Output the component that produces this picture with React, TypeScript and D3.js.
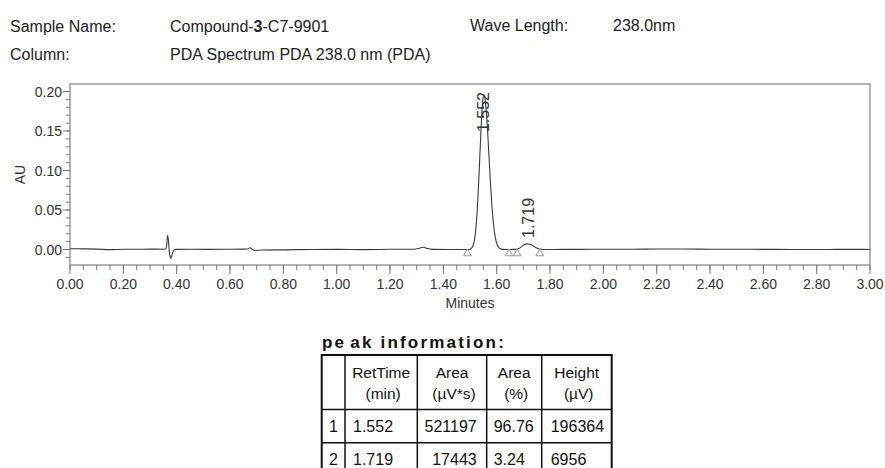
import React from 'react'
import * as d3 from 'd3'

const FONT = '"Liberation Sans", Arial, Helvetica, sans-serif'

// header text
const sampleName = ['Compound-', '3', '-C7-9901']
const columnName = 'PDA Spectrum PDA 238.0 nm (PDA)'
const waveLength = '238.0nm'

// chromatogram trace, [minutes, AU]
const baselineStart: [number, number][] = [
  [0.0, 0.001], [0.05, 0.0008], [0.1, 0.0005], [0.15, -0.0002], [0.2, 0.0004],
  [0.25, 0.0003], [0.3, 0.0005], [0.35, 0.0004]
]
const injectionSpike: [number, number][] = [
  [0.358, 0.0006], [0.362, 0.004], [0.366, 0.018], [0.369, 0.012], [0.372, -0.002],
  [0.376, -0.0095], [0.379, -0.011], [0.383, -0.0065], [0.388, -0.0015], [0.395, 0.0002]
]
const baselineMid: [number, number][] = [
  [0.45, 0.0004], [0.52, 0.0002], [0.6, 0.0004], [0.665, 0.0006], [0.675, 0.0023],
  [0.683, 0.0004], [0.692, -0.0012], [0.72, -0.0006], [0.8, -0.0004], [0.9, 0.0],
  [1.0, 0.0002], [1.1, -0.0001], [1.2, 0.0003], [1.29, 0.0004], [1.31, 0.0016],
  [1.325, 0.0028], [1.34, 0.0012], [1.36, 0.0002], [1.42, 0.0], [1.47, 0.0001]
]
const mainPeak: [number, number][] = [
  [1.492, 0.0001], [1.502, 0.0008], [1.507, 0.0022], [1.512, 0.0056], [1.517, 0.0129],
  [1.522, 0.0265], [1.527, 0.0489], [1.532, 0.0806], [1.537, 0.119], [1.542, 0.157],
  [1.547, 0.185], [1.552, 0.196], [1.557, 0.189], [1.562, 0.171], [1.567, 0.144],
  [1.572, 0.113], [1.577, 0.0824], [1.582, 0.0563], [1.587, 0.0359], [1.592, 0.0214],
  [1.597, 0.0119], [1.602, 0.0061], [1.607, 0.003], [1.612, 0.0013], [1.622, 0.0002],
  [1.635, 0.0], [1.65, 0.0001]
]
const minorPeak: [number, number][] = [
  [1.675, 0.0002], [1.685, 0.0015], [1.695, 0.004], [1.705, 0.0062], [1.715, 0.0071],
  [1.72, 0.007], [1.73, 0.006], [1.74, 0.004], [1.75, 0.002], [1.76, 0.0006], [1.775, 0.0]
]
const baselineEnd: [number, number][] = [
  [1.8, 0.0001], [1.9, 0.0002], [2.0, 0.0004], [2.1, 0.0003], [2.2, 0.0006], [2.3, 0.0007],
  [2.4, 0.0004], [2.5, 0.0003], [2.6, 0.0002], [2.7, 0.0001], [2.8, 0.0], [2.9, 0.0002], [3.0, 0.0001]
]

// peak labels and integration markers
const peakTimes = [1.552, 1.719]
const peakHeights = [0.196, 0.007]
const peakLabels = ['1.552', '1.719']
const markerTimes = [1.49, 1.646, 1.677, 1.762]

// axis ticks
const xMajorTicks = [0, 0.2, 0.4, 0.6, 0.8, 1.0, 1.2, 1.4, 1.6, 1.8, 2.0, 2.2, 2.4, 2.6, 2.8, 3.0]
const yMajorTicks = [0, 0.05, 0.1, 0.15, 0.2]

// peak table
const tableTitle = ['pe', 'ak information:']
const tableHead = [['', ''], ['RetTime', '(min)'], ['Area', '(µV*s)'], ['Area', '(%)'], ['Height', '(µV)']]
const tableRows = [
  ['1', '1.552', '521197', '96.76', '196364'],
  ['2', '1.719', '17443', '3.24', '6956']
]

const W = 885
const H = 468
const plot = { left: 70, right: 870, top: 84, bottom: 265 }

const App = () => {
  const x = d3.scaleLinear().domain([0, 3]).range([plot.left, plot.right])
  const y = d3.scaleLinear().domain([-0.0196, 0.2095]).range([plot.bottom, plot.top])

  const trace = [...baselineStart, ...injectionSpike, ...baselineMid, ...mainPeak, ...minorPeak, ...baselineEnd]
  const line = d3.line<[number, number]>()
    .x(d => x(d[0]))
    .y(d => y(d[1]))
    .curve(d3.curveMonotoneX)

  const xMinor = d3.range(0, 61).map(i => i * 0.05)
  const yMinor = d3.range(-1, 21).map(i => i * 0.01)
  const tri = d3.symbol(d3.symbolTriangle, 26)()

  // table columns
  const cols = [321.7, 345, 417.3, 486.7, 541.7, 611.7]
  const rowLines = [355, 409.5, 442.7, 476]

  return (
    <svg width={W} height={H} style={{ position: 'absolute', left: 0, top: 0, background: '#fff' }}
      fontFamily={FONT}>
      {/* header */}
      <g fontSize={16} fill="#222">
        <text x={10} y={32}>Sample Name:</text>
        <text x={170} y={32}>
          {sampleName[0]}<tspan fontWeight="bold">{sampleName[1]}</tspan>{sampleName[2]}
        </text>
        <text x={470} y={31}>Wave Length:</text>
        <text x={613} y={31}>{waveLength}</text>
        <text x={10} y={60}>Column:</text>
        <text x={170} y={60}>{columnName}</text>
      </g>

      {/* frame */}
      <rect x={plot.left} y={plot.top} width={plot.right - plot.left} height={plot.bottom - plot.top}
        fill="none" stroke="#8a8a8a" strokeWidth={1.3} />

      {/* y axis */}
      <g stroke="#7a7a7a" strokeWidth={1}>
        {yMinor.map(v => (
          <line key={v} x1={plot.left - 4} x2={plot.left} y1={y(v)} y2={y(v)} />
        ))}
        {yMajorTicks.map(v => (
          <line key={'M' + v} x1={plot.left - 7} x2={plot.left} y1={y(v)} y2={y(v)} />
        ))}
      </g>
      <g fontSize={14} fill="#333" textAnchor="end">
        {yMajorTicks.map(v => (
          <text key={v} x={62} y={y(v) + 5}>{v.toFixed(2)}</text>
        ))}
      </g>
      <text transform={`translate(25,${(plot.top + plot.bottom) / 2}) rotate(-90)`}
        textAnchor="middle" fontSize={14} fill="#333">AU</text>

      {/* x axis */}
      <g stroke="#7a7a7a" strokeWidth={1}>
        {xMinor.map(v => (
          <line key={v} x1={x(v)} x2={x(v)} y1={plot.bottom} y2={plot.bottom + 5} />
        ))}
        {xMajorTicks.map(v => (
          <line key={'M' + v} x1={x(v)} x2={x(v)} y1={plot.bottom} y2={plot.bottom + 9} />
        ))}
      </g>
      <g fontSize={14} fill="#333" textAnchor="middle">
        {xMajorTicks.map(v => (
          <text key={v} x={x(v)} y={289}>{v.toFixed(2)}</text>
        ))}
      </g>
      <text x={(plot.left + plot.right) / 2} y={308} textAnchor="middle" fontSize={14} fill="#333">Minutes</text>

      {/* trace */}
      <path d={line(trace) ?? ''} fill="none" stroke="#3a3a3a" strokeWidth={1.1} />

      {/* integration markers */}
      {markerTimes.map(t => (
        <path key={t} d={tri ?? ''} transform={`translate(${x(t)},${y(0) + 4})`}
          fill="#fff" stroke="#9a9a9a" strokeWidth={1} />
      ))}

      {/* peak labels */}
      {peakTimes.map((t, i) => {
        const len = 40
        const ya = y(peakHeights[i])
        const clamp = ya - 6 - len < plot.top + 8
        return (
          <text key={t} transform={`translate(${x(t) + 5.5},${clamp ? plot.top + 8 : ya - 6}) rotate(-90)`}
            textAnchor={clamp ? 'end' : 'start'} fontSize={16} fill="#333">{peakLabels[i]}</text>
        )
      })}

      {/* peak table */}
      <text x={322} y={348} fontSize={17} fontWeight="bold" letterSpacing={2.2} fill="#111">
        {tableTitle[0]}<tspan dx={4}>{tableTitle[1]}</tspan>
      </text>
      <g stroke="#111">
        {rowLines.slice(1, -1).map(v => (
          <line key={v} x1={cols[0]} x2={cols[5]} y1={v} y2={v} strokeWidth={1.5} />
        ))}
        {cols.slice(1, -1).map(v => (
          <line key={v} x1={v} x2={v} y1={rowLines[0]} y2={rowLines[3]} strokeWidth={1.5} />
        ))}
        <rect x={cols[0]} y={rowLines[0]} width={cols[5] - cols[0]} height={rowLines[3] - rowLines[0]}
          fill="none" strokeWidth={2} />
      </g>
      <g fontSize={15.5} fill="#111" textAnchor="middle">
        {tableHead.map((h, i) => (
          <g key={i}>
            <text x={(cols[i] + cols[i + 1]) / 2} y={378}>{h[0]}</text>
            <text x={(cols[i] + cols[i + 1]) / 2 + 2} y={399}>{h[1]}</text>
          </g>
        ))}
      </g>
      <g fontSize={16} fill="#111">
        {tableRows.map((r, j) => {
          const by = rowLines[j + 1] + 22
          return (
            <g key={j}>
              <text x={(cols[0] + cols[1]) / 2} y={by} textAnchor="middle">{r[0]}</text>
              <text x={cols[1] + 8} y={by}>{r[1]}</text>
              <text x={cols[3] - 10} y={by} textAnchor="end">{r[2]}</text>
              <text x={cols[3] + 7} y={by}>{r[3]}</text>
              <text x={cols[4] + 9} y={by}>{r[4]}</text>
            </g>
          )
        })}
      </g>
    </svg>
  )
}

export default App
